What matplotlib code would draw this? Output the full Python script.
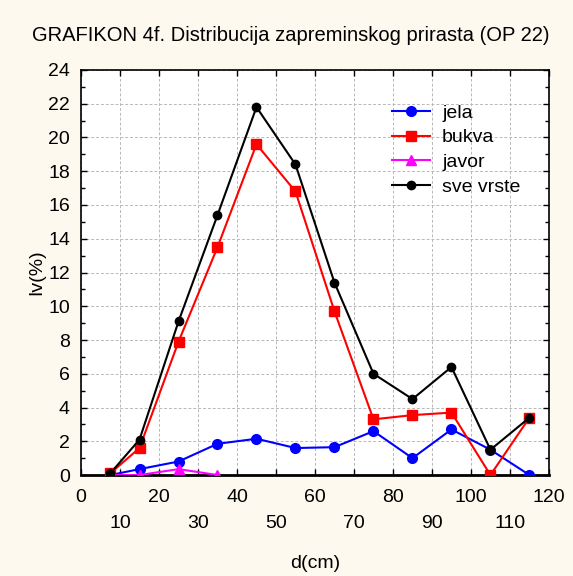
import matplotlib.pyplot as plt
from matplotlib.ticker import MultipleLocator

plt.rcParams['font.family'] = ['Liberation Sans', 'DejaVu Sans']

# diameter class midpoints (cm)
d = [7.5, 15, 25, 35, 45, 55, 65, 75, 85, 95, 105, 115]
jela = [0.0, 0.35, 0.8, 1.85, 2.15, 1.6, 1.65, 2.6, 1.0, 2.7, 1.5, 0.0]
bukva = [0.1, 1.6, 7.9, 13.5, 19.6, 16.8, 9.7, 3.3, 3.55, 3.7, 0.0, 3.4]
d_javor = [7.5, 15, 25, 35]
javor = [0.0, 0.0, 0.35, 0.0]
sve_vrste = [0.1, 2.1, 9.1, 15.4, 21.8, 18.4, 11.4, 6.0, 4.5, 6.4, 1.5, 3.4]

bg = "#fdf9ee"
fig = plt.figure(figsize=(5.73, 5.76), dpi=100, facecolor=bg)
ax = fig.add_axes([0.1414, 0.1753, 0.8166, 0.7032])
ax.set_facecolor("white")

ax.plot(d, jela, color="blue", marker="o", markersize=7, lw=1.5, label="jela", zorder=3)
ax.plot(d, bukva, color="red", marker="s", markersize=6.5, lw=1.5, label="bukva", zorder=4)
ax.plot(d_javor, javor, color="magenta", marker="^", markersize=6.5, lw=1.5, label="javor", zorder=5)
ax.plot(d, sve_vrste, color="black", marker="o", markersize=6, lw=1.5, label="sve vrste", zorder=6)

ax.set_xlim(0, 120)
ax.set_ylim(0, 24)

ax.set_xticks(range(0, 121, 20))
ax.set_xticks(range(10, 120, 20), minor=True)
ax.set_xticklabels([str(v) for v in range(0, 121, 20)])
ax.set_xticklabels([str(v) for v in range(10, 120, 20)], minor=True)
ax.yaxis.set_major_locator(MultipleLocator(2))
ax.yaxis.set_minor_locator(MultipleLocator(1))

ax.tick_params(axis="both", which="both", direction="in", top=True, right=True,
               labelsize=14, length=4, width=1)
ax.tick_params(axis="x", which="major", pad=10)
ax.tick_params(axis="x", which="minor", pad=29)
ax.tick_params(axis="y", which="minor", length=3)
ax.tick_params(axis="y", which="major", pad=8)

ax.grid(True, which="major", axis="both", color="#b8b8b8", linestyle=(0, (3, 2)), lw=0.7)
ax.grid(True, which="minor", axis="x", color="#b8b8b8", linestyle=(0, (3, 2)), lw=0.7)
ax.set_axisbelow(True)

for s in ax.spines.values():
    s.set_linewidth(1.2)
ax.spines["bottom"].set_linewidth(2)

ax.set_xlabel("d(cm)", fontsize=14, labelpad=16)
ax.set_ylabel("Iv(%)", fontsize=14, labelpad=2)
fig.suptitle("GRAFIKON 4f. Distribucija zapreminskog prirasta (OP 22)",
             fontsize=14.5, x=0.508, y=0.955)

ax.legend(loc="upper left", bbox_to_anchor=(0.647, 0.935), frameon=False,
          fontsize=14, handlelength=2.0, handletextpad=0.6,
          labelspacing=0.36, borderaxespad=0)

fig.savefig("out.png", dpi=100, facecolor=bg)
